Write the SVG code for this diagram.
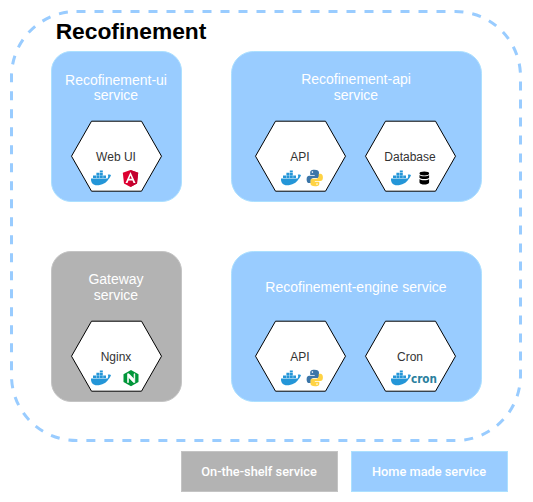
<svg xmlns="http://www.w3.org/2000/svg" width="533" height="502" viewBox="0 0 533 502">
<style>
.svc{stroke-width:1}
.blue{fill:#99ccff;stroke:#ace0ff}
.gray{fill:#b3b3b3;stroke:#c4c4c4}
.hex{fill:#fff;stroke:#000;stroke-width:1}
text{font-family:"Liberation Sans",Arial,sans-serif;text-anchor:middle}
.t{font-size:14px;fill:#fff}
.h{font-size:12px;fill:#333}
.l{font-family:Roboto,"Liberation Sans",sans-serif;font-size:12.800px;font-weight:500;fill:#fff}
</style>
<defs>
<polygon id="hexa" class="hex" points="-25,-35 25,-35 45,0 25,35 -25,35 -45,0"/>
<g id="docker">
<path fill="#2496d8" d="M0,4.500H16.500C17.500,3.200 17.300,1.800 16.800,0.800C18,0.200 19.300,0.400 20,0.900C19.500,2.600 18.500,3.900 17.800,4.800C15.500,9 11,11.300 6,11.300C2,11.300 -0.300,8.500 0,4.500Z"/>
<path fill="#2496d8" d="M2,1.600H5V4H2ZM5.400,1.600H8.400V4H5.400ZM8.800,1.600H11.800V4H8.800ZM5.400,-1.300H8.400V1.200H5.400ZM8.800,-1.300H11.800V1.200H8.800ZM8.800,-3.400H11.800V-1.700H8.800ZM12.200,1.600H15V4H12.200Z"/>
</g>
<g id="python">
<path fill="#3b75a8" d="M7.500,0C3.500,0 3.200,1.500 3.200,3.200V5.300H7.700V6H2.200C0.500,6 -0.400,7.300 -0.400,9.600C-0.400,12 0.600,13.300 2.200,13.300H3.800V11C3.800,9.500 5,8.300 6.500,8.300H10.500C11.700,8.300 12,7.500 12,6.300V3C12,1 10.500,0 7.500,0Z"/>
<path fill="#ffd343" d="M8,16.500C12,16.500 12.300,15.200 12.300,13.700V11.900H7.800V11.200H13.300C15,11.200 15.900,9.900 15.900,7.600C15.900,5.200 14.900,3.900 13.300,3.900H11.700V6.200C11.700,7.700 10.500,8.900 9,8.900H5C3.800,8.900 3.500,9.700 3.500,10.900V13.700C3.500,15.500 5,16.500 8,16.500Z"/>
<circle cx="5.400" cy="2.300" r=".8" fill="#fff"/><circle cx="10" cy="14.300" r=".8" fill="#fff"/>
</g>
</defs>

<g id="connectors"></g>

<g id="boundary">
<rect x="11.500" y="11.500" width="509" height="429" rx="65" ry="65" fill="none" stroke="#99ccff" stroke-width="3" stroke-dasharray="9 9"/>
<text x="131" y="39" style="font-size:22.800px;font-weight:700;fill:#000">Recofinement</text>
</g>

<g id="ui-service">
<rect class="svc blue" x="51.500" y="51.500" width="130" height="150" rx="19.500"/>
<text class="t" x="116" y="85">Recofinement-ui</text>
<text class="t" x="116" y="100">service</text>
</g>
<g id="api-service">
<rect class="svc blue" x="231.500" y="51.500" width="250" height="150" rx="22"/>
<text class="t" x="356" y="84">Recofinement-api</text>
<text class="t" x="356" y="100">service</text>
</g>
<g id="gateway-service">
<rect class="svc gray" x="51.500" y="251.500" width="130" height="150" rx="19.500"/>
<text class="t" x="116" y="284">Gateway</text>
<text class="t" x="116" y="300">service</text>
</g>
<g id="engine-service">
<rect class="svc blue" x="231.500" y="251.500" width="250" height="150" rx="22"/>
<text class="t" x="356" y="292">Recofinement-engine service</text>
</g>

<g id="web-ui">
<use href="#hexa" x="116.500" y="156.200"/>
<text class="h" x="116" y="161">Web UI</text>
<use href="#docker" x="91" y="174"/>
<g>
<polygon points="130.500,170 138.200,172.700 137,183.500 130.500,187 124,183.500 122.800,172.700" fill="#dd0031"/>
<polygon points="130.500,170 138.200,172.700 137,183.500 130.500,187" fill="#c3002f"/>
<path d="M130.500,172L125.500,183H127.500L128.500,180.500H132.500L133.500,183H135.500ZM129.200,178.800L130.500,175.500L131.800,178.800Z" fill="#fff"/>
</g>
</g>
<g id="api-a">
<use href="#hexa" x="300.500" y="156.200"/>
<text class="h" x="300" y="161">API</text>
<use href="#docker" x="281" y="174"/>
<use href="#python" x="307" y="169.800"/>
</g>
<g id="database">
<use href="#hexa" x="410.500" y="156.200"/>
<text class="h" x="410" y="161">Database</text>
<use href="#docker" x="391" y="174"/>
<g fill="#000"><ellipse cx="424.300" cy="173.500" rx="4.800" ry="1.900"/><path d="M419.500,175C420.300,176.800 428.300,176.800 429.100,175V177.800C428.300,179.500 420.300,179.500 419.500,177.800ZM419.500,179C420.300,180.800 428.300,180.800 429.100,179V182.500C428.300,185.300 420.300,185.300 419.500,182.500Z"/></g>
</g>
<g id="nginx">
<use href="#hexa" x="116.500" y="356.200"/>
<text class="h" x="116" y="361">Nginx</text>
<use href="#docker" x="91" y="374"/>
<polygon points="131,370 138.500,374.200 138.500,382 131,386.200 123.500,382 123.500,374.200" fill="#009639"/>
<path d="M127.500,382.500V373.800H129L134,379V373.800H134.800V382.500H133.500L128.500,377.300V382.500Z" fill="#fff" stroke="#fff" stroke-width=".6"/>
</g>
<g id="api-b">
<use href="#hexa" x="300.500" y="356.200"/>
<text class="h" x="300" y="361">API</text>
<use href="#docker" x="281" y="374"/>
<use href="#python" x="307" y="369.800"/>
</g>
<g id="cron">
<use href="#hexa" x="410.500" y="356.200"/>
<text class="h" x="410" y="361">Cron</text>
<use href="#docker" x="391" y="374"/>
<text x="411" y="382.500" style="font-family:'DejaVu Sans',sans-serif;font-size:11.500px;font-weight:700;fill:#2a7f9e;text-anchor:start" textLength="26" lengthAdjust="spacingAndGlyphs">cron</text>
</g>

<g id="legend-shelf">
<rect class="svc gray" x="181.500" y="451.500" width="156" height="40"/>
<text class="l" x="259" y="476">On-the-shelf service</text>
</g>
<g id="legend-home">
<rect class="svc blue" x="351.500" y="451.500" width="156" height="40"/>
<text class="l" x="429" y="476">Home made service</text>
</g>
</svg>
